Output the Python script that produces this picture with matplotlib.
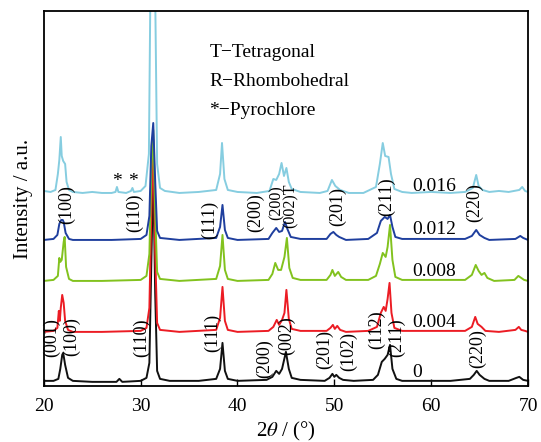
import matplotlib
matplotlib.use("Agg")
import matplotlib.pyplot as plt

plt.rcParams['font.family'] = ['Liberation Serif', 'DejaVu Serif']
plt.rcParams['mathtext.fontset'] = 'stix'

# XRD patterns, x = 2theta (deg), y = intensity above own baseline (a.u.)
x_0 = [20.0, 21.0, 21.5, 21.7, 21.9, 22.0, 22.2, 22.5, 23.0, 25.0, 27.5, 27.8, 28.1,
       30.0, 30.6, 30.9, 31.1, 31.3, 31.5, 31.7, 32.0, 33.0, 36.0, 37.8, 38.2, 38.45,
       38.7, 39.0, 40.0, 43.0, 43.6, 44.0, 44.3, 44.6, 45.0, 45.3, 45.6, 46.5, 49.0,
       49.5, 49.8, 50.0, 50.2, 50.5, 50.9, 52.0, 54.0, 54.5, 54.9, 55.2, 55.5, 55.75,
       56.0, 56.4, 57.0, 62.0, 64.0, 64.4, 64.7, 65.0, 65.5, 66.0, 68.0, 68.8, 69.1,
       69.5, 70.0]
y_0 = [2, 2, 4, 14, 28, 30, 18, 5, 2, 1, 1, 4, 1,
       2, 5, 20, 120, 213, 90, 12, 4, 2, 2, 4, 14, 40,
       12, 4, 2, 3, 6, 12, 9, 14, 31, 14, 5, 3, 2,
       5, 9, 6, 8, 5, 3, 2, 3, 8, 21, 24, 28, 38,
       14, 4, 2, 2, 4, 8, 12, 8, 4, 2, 2, 5, 6,
       3, 2]

x_004 = [20.0, 21.0, 21.4, 21.55, 21.65, 21.75, 21.9, 22.05, 22.2, 22.5, 23.0, 26.0,
         30.0, 30.6, 30.9, 31.1, 31.3, 31.5, 31.7, 32.0, 34.0, 37.8, 38.2, 38.45, 38.7,
         39.0, 40.0, 43.2, 43.7, 44.05, 44.3, 44.6, 44.85, 45.05, 45.3, 45.6, 46.5,
         49.2, 49.6, 49.85, 50.05, 50.3, 50.6, 51.2, 53.5, 54.4, 54.8, 55.1, 55.3, 55.5,
         55.7, 55.9, 56.2, 57.0, 63.5, 64.2, 64.55, 64.8, 65.2, 65.6, 67.0, 68.7, 69.05,
         69.3, 69.7, 70.0]
y_004 = [1, 2, 5, 22, 12, 25, 38, 30, 12, 3, 1, 1,
         2, 5, 25, 120, 193, 80, 10, 3, 1, 3, 15, 46, 12,
         3, 1, 2, 6, 13, 8, 13, 20, 43, 14, 4, 2,
         2, 5, 8, 4, 7, 3, 1, 2, 6, 20, 26, 22, 34,
         50, 20, 5, 2, 2, 6, 16, 9, 6, 2, 1, 3, 6,
         3, 2, 1]

x_008 = [20.0, 21.0, 21.45, 21.6, 21.7, 21.85, 22.05, 22.15, 22.3, 22.6, 23.0, 26.0,
         30.0, 30.6, 30.9, 31.1, 31.3, 31.5, 31.7, 32.0, 34.0, 37.8, 38.2, 38.45, 38.7,
         39.0, 40.0, 43.2, 43.6, 43.9, 44.2, 44.5, 44.85, 45.1, 45.35, 45.7, 46.5,
         49.2, 49.6, 49.8, 50.05, 50.4, 50.7, 51.2, 53.5, 54.3, 54.7, 55.0, 55.3, 55.5,
         55.75, 56.0, 56.3, 57.0, 63.5, 64.2, 64.6, 64.9, 65.2, 65.5, 65.8, 66.5, 68.6,
         69.0, 69.3, 69.6, 70.0]
y_008 = [1, 2, 6, 24, 20, 22, 40, 45, 15, 3, 1, 1,
         2, 6, 28, 110, 152, 70, 10, 3, 1, 3, 16, 47, 12,
         3, 1, 2, 8, 19, 12, 12, 25, 44, 14, 4, 2,
         2, 7, 12, 6, 10, 5, 2, 2, 6, 18, 29, 25, 35,
         57, 22, 5, 2, 2, 7, 17, 11, 7, 9, 4, 1, 2,
         6, 4, 2, 1]

x_012 = [20.0, 21.0, 21.4, 21.6, 21.8, 21.95, 22.05, 22.25, 22.6, 23.0, 27.0,
         30.0, 30.6, 30.9, 31.1, 31.3, 31.5, 31.7, 32.0, 34.0, 37.8, 38.2, 38.45, 38.7,
         39.0, 40.0, 43.2, 43.6, 44.0, 44.3, 44.6, 44.9, 45.15, 45.5, 46.5,
         49.2, 49.6, 49.9, 50.2, 50.5, 51.2, 53.5, 54.4, 54.8, 55.2, 55.5, 55.75, 56.0,
         56.3, 57.0, 63.5, 64.2, 64.65, 65.0, 65.5, 66.0, 68.7, 69.2, 69.5, 70.0]
y_012 = [1, 2, 6, 17, 21, 21, 19, 8, 2, 1, 1,
         2, 6, 25, 95, 118, 60, 10, 3, 1, 3, 14, 36, 11,
         3, 1, 2, 8, 13, 9, 10, 19, 12, 4, 2,
         2, 7, 9, 6, 4, 1, 2, 8, 20, 24, 22, 26, 14,
         4, 2, 2, 5, 11, 6, 3, 1, 2, 5, 3, 1]

x_016 = [20.0, 20.7, 21.2, 21.45, 21.6, 21.75, 21.85, 22.0, 22.2, 22.35, 22.6, 23.0,
         24.0, 25.0, 26.0, 27.0, 27.4, 27.55, 27.7, 28.5, 29.0, 29.15, 29.3, 30.0, 30.5,
         30.85, 31.05, 31.3, 31.5, 31.7, 32.0, 32.5, 34.0, 36.0, 37.8, 38.2, 38.4, 38.65,
         39.0, 40.0, 42.0, 43.3, 43.7, 44.0, 44.3, 44.55, 44.8, 45.05, 45.3, 45.6, 46.5,
         48.5, 49.3, 49.75, 50.1, 50.6, 51.5, 53.0, 54.3, 54.7, 55.0, 55.25, 55.6, 55.85,
         56.2, 57.0, 58.0, 60.0, 62.0, 63.5, 64.3, 64.65, 64.9, 65.3, 66.0, 67.0, 68.0,
         69.1, 69.4, 69.7, 70.0]
y_016 = [3, 2, 4, 20, 34, 57, 38, 33, 30, 12, 4, 2,
         1, 2, 1, 1, 2, 7, 2, 1, 3, 6, 2, 3, 8,
         40, 250, 320, 200, 30, 6, 3, 1, 2, 4, 20, 51, 15,
         4, 2, 1, 3, 15, 14, 20, 31, 18, 26, 12, 5, 2,
         1, 3, 14, 8, 4, 1, 1, 7, 30, 51, 38, 37, 20,
         5, 2, 1, 2, 1, 2, 6, 19, 8, 4, 2, 3, 2,
         4, 7, 3, 2]

series_x = [x_0, x_004, x_008, x_012, x_016]
series_y = [y_0, y_004, y_008, y_012, y_016]
names = ['0', '0.004', '0.008', '0.012', '0.016']
offsets = [3, 53, 104, 145, 192]
colors = ['#111111', '#ec1c24', '#82c21e', '#1f3f9e', '#86cde0']

# hkl labels: (text, 2theta, height)
hkl_bottom = [('(001)', 20.8, 48), ('(100)', 22.9, 49), ('(110)', 30.1, 48),
              ('(111)', 37.4, 53), ('(200)', 42.8, 27), ('(002)', 45.1, 50),
              ('(201)', 49.0, 36), ('(102)', 51.5, 34), ('(112)', 54.4, 56),
              ('(211)', 56.4, 48), ('(220)', 64.8, 37)]
hkl_top = [('(100)', 22.4, 181), ('(110)', 29.4, 173), ('(111)', 37.1, 166),
           ('(200)', 41.9, 173), ('(201)', 50.3, 179), ('(211)', 55.4, 189),
           ('(220)', 64.5, 183)]
# crowded labels around 44-46 deg on the 0.012 pattern
hkl_tight = [('(200)', 44.0, 183), ('(002)T', 45.5, 180)]
name_y = [13, 63, 114, 156, 199]

fig = plt.figure(figsize=(5.41, 4.42), dpi=100)
ax = fig.add_axes([0.081, 0.127, 0.895, 0.848])

for xs, ys, off, c in zip(series_x, series_y, offsets, colors):
    assert len(xs) == len(ys)
    ax.plot(xs, [v + off for v in ys], color=c, lw=1.4)

for s, x, y in hkl_bottom + hkl_top:
    ax.text(x, y, s, rotation=90, ha='center', va='center', fontsize=13)
for s, x, y in hkl_tight:
    ax.text(x, y, s, rotation=90, ha='center', va='center', fontsize=11.5)

for s, y in zip(names, name_y):
    ax.text(58.0, y, s, ha='left', va='center', fontsize=14)

ax.text(37.1, 334, 'T\u2212Tetragonal', ha='left', va='center', fontsize=14)
ax.text(37.1, 305, 'R\u2212Rhombohedral', ha='left', va='center', fontsize=14)
ax.text(37.1, 276, '*\u2212Pyrochlore', ha='left', va='center', fontsize=14)
ax.text(27.5, 204, '*', ha='center', va='center', fontsize=14)
ax.text(29.15, 204, '*', ha='center', va='center', fontsize=14)

ax.set_xlim(20, 70)
ax.set_ylim(0, 375)
ax.set_xticks([20, 30, 40, 50, 60, 70])
ax.set_yticks([])
ax.tick_params(axis='x', direction='in', length=5, width=1, labelsize=14, pad=9)
for sp in ax.spines.values():
    sp.set_linewidth(1.3)
ax.set_xlabel(r'2$\theta$ / (°)', fontsize=15, labelpad=3)
ax.set_ylabel('Intensity / a.u.', fontsize=15, labelpad=8)

fig.savefig('out.png', dpi=100)
